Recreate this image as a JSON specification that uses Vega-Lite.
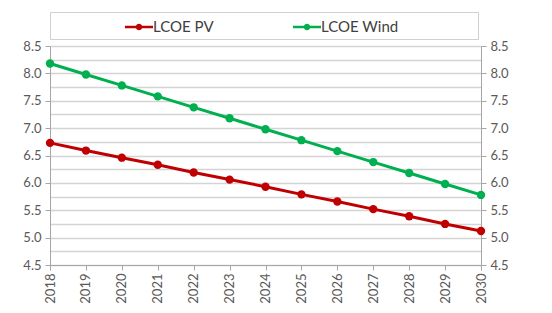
{
  "$schema": "https://vega.github.io/schema/vega-lite/v6.json",
  "autosize": "none",
  "width": 431,
  "height": 219,
  "padding": {"left": 50, "top": 46, "right": 71, "bottom": 48},
  "background": "white",
  "config": {
    "view": {"stroke": null},
    "font": "Lato",
    "axis": {"labelFont": "Lato", "labelColor": "#595959", "labelFontSize": 13}
  },
  "data": {
    "values": [
      {"year": "2018", "series": "LCOE PV", "v": 6.73},
      {"year": "2019", "series": "LCOE PV", "v": 6.59},
      {"year": "2020", "series": "LCOE PV", "v": 6.46},
      {"year": "2021", "series": "LCOE PV", "v": 6.33},
      {"year": "2022", "series": "LCOE PV", "v": 6.19},
      {"year": "2023", "series": "LCOE PV", "v": 6.06},
      {"year": "2024", "series": "LCOE PV", "v": 5.93},
      {"year": "2025", "series": "LCOE PV", "v": 5.79},
      {"year": "2026", "series": "LCOE PV", "v": 5.66},
      {"year": "2027", "series": "LCOE PV", "v": 5.52},
      {"year": "2028", "series": "LCOE PV", "v": 5.39},
      {"year": "2029", "series": "LCOE PV", "v": 5.25},
      {"year": "2030", "series": "LCOE PV", "v": 5.12},
      {"year": "2018", "series": "LCOE Wind", "v": 8.18},
      {"year": "2019", "series": "LCOE Wind", "v": 7.98},
      {"year": "2020", "series": "LCOE Wind", "v": 7.78},
      {"year": "2021", "series": "LCOE Wind", "v": 7.58},
      {"year": "2022", "series": "LCOE Wind", "v": 7.38},
      {"year": "2023", "series": "LCOE Wind", "v": 7.18},
      {"year": "2024", "series": "LCOE Wind", "v": 6.98},
      {"year": "2025", "series": "LCOE Wind", "v": 6.78},
      {"year": "2026", "series": "LCOE Wind", "v": 6.58},
      {"year": "2027", "series": "LCOE Wind", "v": 6.38},
      {"year": "2028", "series": "LCOE Wind", "v": 6.18},
      {"year": "2029", "series": "LCOE Wind", "v": 5.98},
      {"year": "2030", "series": "LCOE Wind", "v": 5.78}
    ]
  },
  "encoding": {
    "x": {
      "field": "year", "type": "ordinal",
      "scale": {"type": "point", "padding": 0},
      "axis": {
        "title": null, "labelAngle": -90, "labelAlign": "right", "labelBaseline": "middle",
        "domainColor": "#a6a6a6", "tickColor": "#a6a6a6", "tickSize": 5, "grid": false,
        "labelPadding": 3
      }
    },
    "color": {
      "field": "series", "type": "nominal",
      "scale": {"domain": ["LCOE PV", "LCOE Wind"], "range": ["#c00000", "#00b050"]},
      "legend": {
        "title": null, "orient": "none", "legendX": 0, "legendY": -34, "direction": "horizontal",
        "strokeColor": "#d0d0d0", "padding": 4, "columnPadding": 8, "labelLimit": 400,
        "labelFont": "Lato", "labelFontSize": 15, "labelColor": "#404040", "labelOffset": 3,
        "labelExpr": "datum.label == 'LCOE Wind' ? datum.label + '\u2003\u2003\u2003\u2003\u2003\u2003\u2002\u200b' : datum.label",
        "symbolType": "M -1.5 0 L 1.5 0 M 0.22 0 A 0.22 0.22 0 1 1 -0.22 0 A 0.22 0.22 0 1 1 0.22 0",
        "symbolSize": 350, "symbolStrokeWidth": 2.5, "symbolOffset": 74,
        "encode": {"symbols": {"update": {"fill": {"scale": "color", "field": "value"}}}}
      }
    }
  },
  "layer": [
    {
      "mark": {"type": "line", "strokeWidth": 3},
      "encoding": {
        "y": {
          "field": "v", "type": "quantitative",
          "scale": {"domain": [4.5, 8.5], "nice": false, "zero": false},
          "axis": {
            "title": null, "orient": "left",
            "values": [4.5, 4.75, 5, 5.25, 5.5, 5.75, 6, 6.25, 6.5, 6.75, 7, 7.25, 7.5, 7.75, 8, 8.25, 8.5],
            "labelExpr": "datum.value % 0.5 == 0 ? format(datum.value, '.1f') : ''",
            "grid": true, "gridColor": "#d4d4d4", "gridWidth": 1.5,
            "domainColor": "#a6a6a6",
            "tickColor": {"condition": {"test": "datum.value % 0.5 == 0", "value": "#a6a6a6"}, "value": "transparent"},
            "tickSize": 5, "labelPadding": 4
          }
        }
      }
    },
    {
      "mark": {"type": "point", "filled": true, "size": 70, "opacity": 1},
      "encoding": {
        "y": {
          "field": "v", "type": "quantitative",
          "scale": {"domain": [4.5, 8.5], "nice": false, "zero": false},
          "axis": {
            "title": null, "orient": "right",
            "values": [4.5, 5, 5.5, 6, 6.5, 7, 7.5, 8, 8.5],
            "format": ".1f", "grid": false,
            "domainColor": "#a6a6a6", "tickColor": "#a6a6a6", "tickSize": 5, "labelPadding": 4
          }
        }
      }
    }
  ],
  "resolve": {"axis": {"y": "independent"}}
}
